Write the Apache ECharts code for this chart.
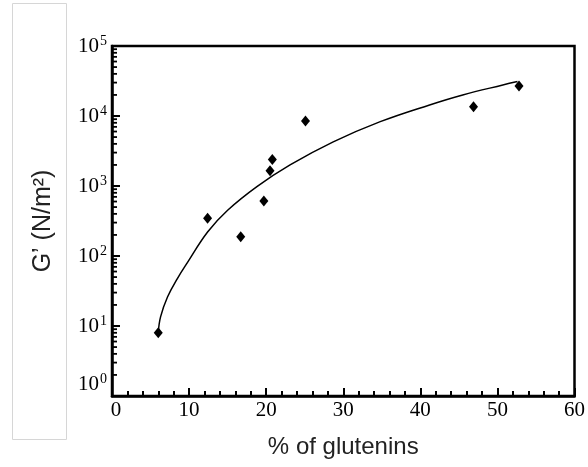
<!DOCTYPE html>
<html><head><meta charset="utf-8">
<script src="https://cdn.jsdelivr.net/npm/echarts@6/dist/echarts.min.js"></script>
<style>html,body{margin:0;padding:0;background:#fff}#c{width:588px;height:467px}</style>
</head><body><div id="c"></div>
<script>
// Measured data (% glutenins vs G')
const glutenin = [6.0, 12.4, 16.7, 19.7, 20.5, 20.8, 25.1, 46.9, 52.8];
const gPrime = [8, 345, 189, 610, 1650, 2400, 8500, 13600, 26800];
// Fitted curve
const fitX = [6.0, 6.3, 7.2, 8.5, 9.8, 12.4, 15.0, 18.8, 23.1, 28.7, 34.8, 41.2, 45.5, 50.7, 52.6];
const fitY = [8, 13.5, 26, 48, 81, 220, 450, 980, 2000, 4270, 8300, 14400, 20000, 27700, 31000];
// Axis ticks
const xTicks = [0, 10, 20, 30, 40, 50, 60];
const yMinorTicks = [];
for (let k = 0; k < 5; k++) for (let m = 2; m <= 9; m++) yMinorTicks.push(m * Math.pow(10, k));

const serif = '"Liberation Serif", "DejaVu Serif", serif';
const sans = '"Liberation Sans", Arial, sans-serif';
const chart = echarts.init(document.getElementById('c'));
chart.setOption({
  animation: false,
  backgroundColor: '#fff',
  graphic: [{type: 'rect', shape: {x: 12.5, y: 3.5, width: 54, height: 436},
    style: {fill: 'none', stroke: '#d6d6d6', lineWidth: 1}, silent: true}],
  grid: {left: 112, right: 13, top: 46, bottom: 71, show: true, borderColor: '#000', borderWidth: 2.5, backgroundColor: 'transparent'},
  xAxis: {
    type: 'value', min: xTicks[0], max: xTicks[xTicks.length - 1], interval: 10,
    name: '% of glutenins', nameLocation: 'middle', nameGap: 39,
    nameTextStyle: {fontFamily: sans, fontSize: 24, color: '#222'},
    axisLine: {lineStyle: {color: '#000', width: 2.5}},
    axisTick: {inside: true, length: 8, lineStyle: {color: '#000', width: 2}},
    minorTick: {show: true, splitNumber: 5, length: 5, lineStyle: {color: '#000', width: 2}},
    splitLine: {show: false},
    axisLabel: {fontFamily: serif, fontSize: 21, color: '#000', margin: 4,
      formatter: v => v === 0 ? '{z|0}' : String(v),
      rich: {z: {fontFamily: serif, fontSize: 21, color: '#000', padding: [0, 0, 0, 8]}}}
  },
  yAxis: {
    type: 'log', logBase: 10, min: 1, max: 100000,
    name: "G\u2019 (N/m\u00b2)", nameLocation: 'middle', nameGap: 56, nameRotate: 90,
    nameTextStyle: {fontFamily: sans, fontSize: 25, color: '#222'},
    axisLine: {lineStyle: {color: '#000', width: 2.5}},
    axisTick: {inside: true, length: 8, lineStyle: {color: '#000', width: 2}},
    splitLine: {show: false},
    axisLabel: {fontFamily: serif, fontSize: 21, color: '#000', margin: 5,
      formatter: v => {
        const e = Math.round(Math.log10(v));
        return e === 0 ? '{b|10}{s|0}\n{g| }' : '{b|10}{s|' + e + '}';
      },
      rich: {
        b: {fontFamily: serif, fontSize: 21, color: '#000', lineHeight: 24},
        s: {fontFamily: serif, fontSize: 14, color: '#000', verticalAlign: 'top', padding: [0, 0, 10, 1], lineHeight: 24},
        g: {fontSize: 10, lineHeight: 24}
      }}
  },
  series: [
    {type: 'custom', silent: true, z: 5,
      data: yMinorTicks.map(v => [0, v]),
      renderItem: (params, api) => {
        const p = api.coord([api.value(0), api.value(1)]);
        return {type: 'line', shape: {x1: p[0], y1: p[1], x2: p[0] + 5, y2: p[1]},
          style: {stroke: '#000', lineWidth: 1.8}};
      }},
    {type: 'line', data: fitX.map((x, i) => [x, fitY[i]]), smooth: 0.4, showSymbol: false,
      lineStyle: {color: '#000', width: 1.5}, z: 3},
    {type: 'scatter', data: glutenin.map((x, i) => [x, gPrime[i]]), symbol: 'diamond', symbolSize: [9, 11],
      itemStyle: {color: '#000', opacity: 1}, z: 4}
  ]
});
</script></body></html>
